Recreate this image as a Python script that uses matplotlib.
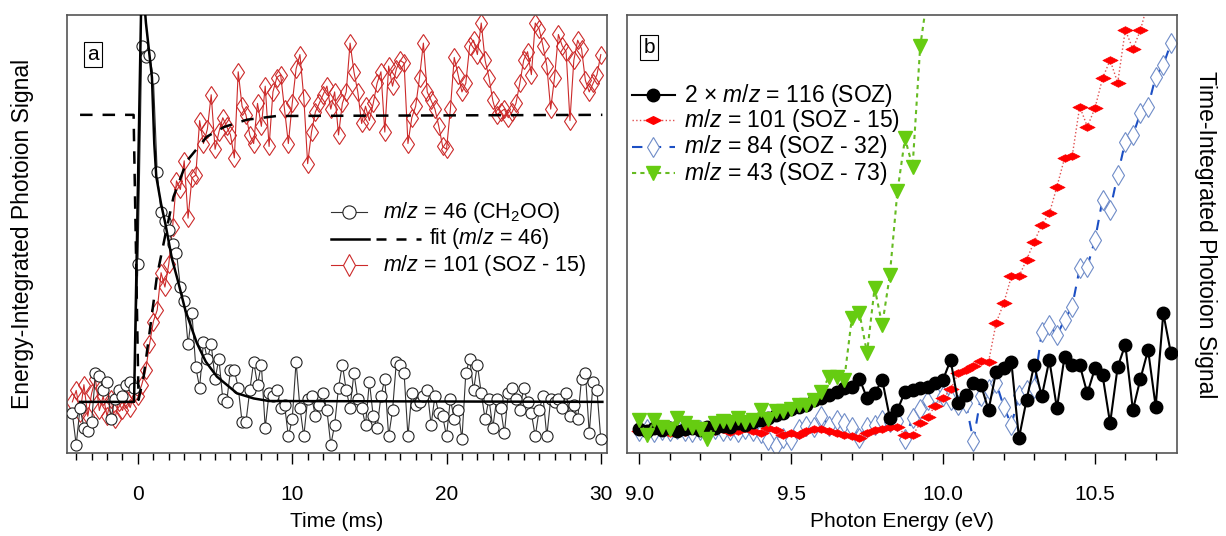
import numpy as np
import matplotlib
matplotlib.use("Agg")
import matplotlib.pyplot as plt
from matplotlib.path import Path
from matplotlib.ticker import MultipleLocator, FormatStrFormatter

plt.rcParams.update({
    "font.family": ["Liberation Sans", "DejaVu Sans"],
    "mathtext.fontset": "custom",
    "mathtext.rm": "Liberation Sans",
    "mathtext.it": "Liberation Sans:italic",
    "mathtext.bf": "Liberation Sans:bold",
})

# ---------------- panel a: kinetics (arbitrary units, m/z 101 plateau = 100)
time_ms = np.arange(138) * 0.25 - 4.25

sig_46 = [
    -4, -15, -2, -9, -10, -7, 10, 9, 4, 7, -6, 1, 4, 2, 6, 7, 5,
    48, 124, 120, 121, 113, 80, 66, 63, 60, 55, 52, 40, 35, 20, 31, 12, 5,
    21, 15, 20, 8, 15, 1, 0, 11, 11, 5, -7,
    -7, 4, 14, 6, 13, -9, 3, 2, 4, -2, -1, -12, -6, 14, -2, -12,
    1, 2, -5, -1, 3, -3, -15, -8, 5, 13, 4, -2, 10, 1, -2, -8,
    7, -5, -9, 2, 8, -12, -3, 14, 13, 10, -12, 3, -1, 0, 2, 4,
    -8, 2, -4, -5, -12, 1, -6, -3, -13, 10, 15, 4, 13, 3, -6, 1,
    -9, 1, -2, -11, 3, 5, 1, -3, 5, 0, -4, -12, -3, 2, -12, 1,
    0, 1, -2, 3, -5, -1, -6, 8, 10, -11, 7, 4, -13,
]

sig_101 = [
    0, 4, -4, 6, -5, 3, 8, -3, 2, -5, 1, -6, 0, -3, 1, -2, 3,
    2, 6, 11, 20, 28, 32, 45, 40, 48, 61, 77, 74, 84, 64, 78, 79, 98,
    90, 95, 107, 88, 94, 99, 96, 93, 85, 115, 103,
    100, 93, 90, 104, 96, 110, 89, 108, 113, 114, 102, 90, 104, 116, 121, 106,
    83, 94, 101, 104, 107, 110, 102, 108, 93, 104, 108, 125, 115, 108, 97, 103,
    98, 104, 111, 115, 94, 117, 110, 116, 119, 118, 90, 99, 103, 113, 125, 108,
    105, 102, 96, 89, 88, 102, 120, 114, 108, 111, 124, 126, 121, 132, 119, 113,
    105, 100, 101, 102, 99, 101, 104, 111, 119, 122, 114, 132, 130, 124, 117, 102,
    113, 128, 124, 122, 98, 119, 126, 123, 112, 108, 111, 114, 121,
]

# fit curves (time, signal)
fit46_t = [-3.75, -0.25, 0.25, 0.52, 0.91, 1.06, 1.19, 1.5, 1.77, 2.2, 2.63,
           3.07, 3.82, 4.4, 5.12, 6.42, 7.5, 8.5, 30.1]
fit46_v = [0, 0, 150, 132, 113, 90, 78.5, 69, 62.3, 50, 41.4,
           32, 20.5, 14, 8.8, 3, 1.2, 0.3, 0]
fit101_t = [-3.75, -0.28, 0.04, 0.37, 0.8, 1.23, 1.77, 2.31, 3.18, 4.47,
            5.6, 7.06, 9.0, 30.1]
fit101_v = [100, 100, 0.7, 8.8, 26, 43.7, 58, 71.5, 84, 92.4,
            95.8, 98.3, 99.6, 100]

# ---------------- panel b: photoionization spectra
energy_ev = 9.0 + 0.025 * np.arange(71)

soz_116 = [
    0.55, 0.5, 0.58, 0.52, 0.57, 0.5, 0.55, 0.58, 0.52, 0.6, 0.56, 0.62,
    0.6, 0.68, 0.65, 0.7, 0.75, 0.8, 0.87, 0.92, 1.0, 1.05, 1.1,
    1.21, 1.25, 1.32, 1.40, 1.48, 1.51, 1.70, 1.25, 1.36, 1.67, 0.80, 0.98,
    1.40, 1.44, 1.48, 1.51, 1.59, 1.67, 2.12, 1.15, 1.32, 1.59, 1.55, 0.98,
    1.86, 1.93, 2.08, 0.34, 1.21, 2.01, 1.29, 2.12, 1.02, 2.20, 2.01, 2.01,
    1.36, 1.93, 1.78, 0.68, 1.97, 2.47, 0.98, 1.70, 2.35, 1.06, 3.19, 2.28,
]
soz_101 = [
    0.5, 0.45, 0.55, 0.5, 0.45, 0.52, 0.48, 0.55, 0.5, 0.45, 0.5, 0.55,
    0.48, 0.5, 0.57, 0.5, 0.45, 0.57, 0.53, 0.41, 0.45, 0.41, 0.5,
    0.55, 0.55, 0.5, 0.45, 0.41, 0.38, 0.35, 0.45, 0.53, 0.55, 0.6, 0.6,
    0.41, 0.4, 0.68, 0.83, 1.08, 1.25, 1.45, 1.82, 1.89, 1.98, 2.1, 2.08,
    2.97, 3.42, 4.03, 4.03, 4.41, 4.82, 5.21, 5.47, 6.08, 6.73, 6.77, 7.91,
    7.45, 7.87, 8.55, 8.97, 8.45, 9.66, 9.22, 9.66, 10.3, 10.6, 10.9, 11.2,
]
soz_84 = [
    0.5, 0.55, 0.48, 0.52, 0.5, 0.55, 0.5, 0.48, 0.52, 0.5, 0.55, 0.5,
    0.52, 0.48, 0.55, 0.5, 0.45, 0.3, 0.15, 0.35, 0.3, 0.55, 0.62,
    0.6, 0.85, 0.62, 0.75, 0.68, 0.6, 0.35, 0.6, 0.65, 0.75, 0.7, 0.72,
    0.33, 0.8, 1.0, 1.2, 1.35, 1.3, 1.2, 1.1, 1.15, 0.28, 1.3, 1.45,
    1.6, 1.06, 0.64, 1.32, 1.44, 1.48, 2.77, 2.92, 2.69, 3.04, 3.34, 4.22,
    4.25, 4.86, 5.78, 5.55, 6.35, 7.11, 7.26, 7.76, 7.91, 8.59, 8.86, 9.35,
]
soz_43 = [
    0.75, 0.4, 0.75, 0.6, 0.55, 0.8, 0.68, 0.6, 0.55, 0.33, 0.68, 0.72,
    0.7, 0.8, 0.7, 0.75, 0.98, 0.78, 0.95, 0.95, 1.0, 1.1, 1.1,
    1.2, 1.4, 1.74, 1.74, 1.67, 3.08, 3.2, 2.28, 3.77, 2.92, 4.06, 5.97,
    7.18, 6.54, 9.28, 10.5,
]

RED = "#cc2a2a"
FRAME = "#555555"
wide_diamond = Path([(-1, 0), (0, 0.5), (1, 0), (0, -0.5), (-1, 0)], closed=True)

fig = plt.figure(figsize=(12.26, 5.36), dpi=100)
ax1 = fig.add_axes([0.0546, 0.1549, 0.4405, 0.8172])
ax2 = fig.add_axes([0.5114, 0.1549, 0.4486, 0.8172])

# ---- panel a
ax1.plot(time_ms, sig_46, "-", color="#333333", lw=0.8, marker="o", ms=8,
         mfc="white", mec="#222222", mew=0.8, zorder=3)
ax1.plot(time_ms, sig_101, "-", color=RED, lw=0.8, marker="d", ms=9.5,
         mfc="none", mec=RED, mew=0.8, zorder=2)
ax1.plot(fit46_t, fit46_v, "-", color="black", lw=1.8, zorder=4)
ax1.plot(fit101_t, fit101_v, color="black", lw=1.8, ls=(0, (5, 4)), zorder=4)
ax1.set_xlim(-4.6, 30.4)
ax1.set_ylim(-17.8, 134.8)
ax1.xaxis.set_major_locator(MultipleLocator(10))
ax1.xaxis.set_minor_locator(MultipleLocator(1))
ax1.set_xlabel("Time (ms)", fontsize=15, labelpad=6)

# manual legend, panel a
tr = ax1.transAxes
ax1.plot([0.489, 0.556], [0.550, 0.550], color="#333333", lw=0.8, transform=tr, clip_on=False)
ax1.plot([0.522], [0.550], "o", ms=9.5, mfc="white", mec="#222222", mew=0.8, transform=tr)
ax1.text(0.585, 0.550, r"$m/z$ = 46 (CH$_2$OO)", transform=tr, fontsize=15.5, va="center")
ax1.plot([0.489, 0.559], [0.489, 0.489], color="black", lw=1.8, transform=tr)
ax1.plot([0.572, 0.656], [0.489, 0.489], color="black", lw=1.8, ls=(0, (4, 4)), transform=tr)
ax1.text(0.670, 0.489, r"fit ($m/z$ = 46)", transform=tr, fontsize=15.5, va="center")
ax1.plot([0.489, 0.556], [0.429, 0.429], color=RED, lw=0.8, transform=tr)
ax1.plot([0.522], [0.429], "d", ms=11, mfc="white", mec=RED, mew=0.8, transform=tr)
ax1.text(0.585, 0.429, r"$m/z$ = 101 (SOZ - 15)", transform=tr, fontsize=15.5, va="center")

# ---- panel b
ax2.plot(energy_ev, soz_84, color="#1c4fc4", lw=1.5, ls=(0, (5, 4)), marker="d",
         ms=10, mfc="white", mec="#6f8cc8", mew=0.8, zorder=2)
ax2.plot(energy_ev, soz_101, color="#e05050", lw=1.0, ls=":", marker=wide_diamond,
         ms=11, mfc="#ff0000", mec="#ff0000", mew=0.5, zorder=3)
ax2.plot(energy_ev, soz_116, "-", color="black", lw=1.5, marker="o", ms=9,
         mfc="black", mec="black", zorder=4)
ax2.plot(energy_ev[:len(soz_43)], soz_43, color="#66bb22", lw=1.5, ls=(0, (2, 2)),
         marker="v", ms=10, mfc="#66cc11", mec="#66cc11", zorder=5)
ax2.set_xlim(8.96, 10.77)
ax2.set_ylim(0, 10)
ax2.xaxis.set_major_locator(MultipleLocator(0.5))
ax2.xaxis.set_minor_locator(MultipleLocator(0.1))
ax2.xaxis.set_major_formatter(FormatStrFormatter("%.1f"))
ax2.set_xlabel("Photon Energy (eV)", fontsize=15, labelpad=6)

tr = ax2.transAxes
rows = [0.817, 0.760, 0.699, 0.639]
ax2.plot([0.009, 0.087], [rows[0]] * 2, "-", color="black", lw=1.5, transform=tr, clip_on=False)
ax2.plot([0.047], [rows[0]], "o", ms=9, color="black", transform=tr)
ax2.text(0.104, rows[0], r"2 × $m/z$ = 116 (SOZ)", transform=tr, fontsize=16.5, va="center")
ax2.plot([0.009, 0.087], [rows[1]] * 2, color="#e05050", lw=1.0, ls=":", transform=tr, clip_on=False)
ax2.plot([0.047], [rows[1]], marker=wide_diamond, ms=11, color="#ff0000", transform=tr)
ax2.text(0.104, rows[1], r"$m/z$ = 101 (SOZ - 15)", transform=tr, fontsize=16.5, va="center")
ax2.plot([0.009, 0.087], [rows[2]] * 2, color="#1c4fc4", lw=1.5, ls=(0, (5, 4)), transform=tr, clip_on=False)
ax2.plot([0.047], [rows[2]], "d", ms=10, mfc="white", mec="#6f8cc8", mew=0.8, transform=tr)
ax2.text(0.104, rows[2], r"$m/z$ = 84 (SOZ - 32)", transform=tr, fontsize=16.5, va="center")
ax2.plot([0.009, 0.087], [rows[3]] * 2, color="#66bb22", lw=1.5, ls=(0, (2, 2)), transform=tr, clip_on=False)
ax2.plot([0.047], [rows[3]], "v", ms=10, color="#66cc11", transform=tr)
ax2.text(0.104, rows[3], r"$m/z$ = 43 (SOZ - 73)", transform=tr, fontsize=16.5, va="center")

# ---- shared styling
for ax, lab, pos in [(ax1, "a", (0.048, 0.909)), (ax2, "b", (0.040, 0.925))]:
    ax.set_yticks([])
    for sp in ax.spines.values():
        sp.set_color(FRAME)
        sp.set_linewidth(1.2)
    ax.tick_params(axis="x", which="major", direction="out", length=8, width=1,
                   pad=15, labelsize=15, top=False)
    ax.tick_params(axis="x", which="minor", direction="out", length=5, width=1, top=False)
    ax.text(pos[0], pos[1], lab, transform=ax.transAxes, fontsize=15,
            ha="center", va="center",
            bbox=dict(boxstyle="square,pad=0.15", fc="white", ec="black", lw=0.8))

fig.text(0.018, 0.563, "Energy-Integrated Photoion Signal", rotation=90,
         fontsize=16.5, ha="center", va="center")
fig.text(0.983, 0.563, "Time-Integrated Photoion Signal", rotation=270,
         fontsize=16.5, ha="center", va="center")

fig.savefig("out.png", dpi=100)
